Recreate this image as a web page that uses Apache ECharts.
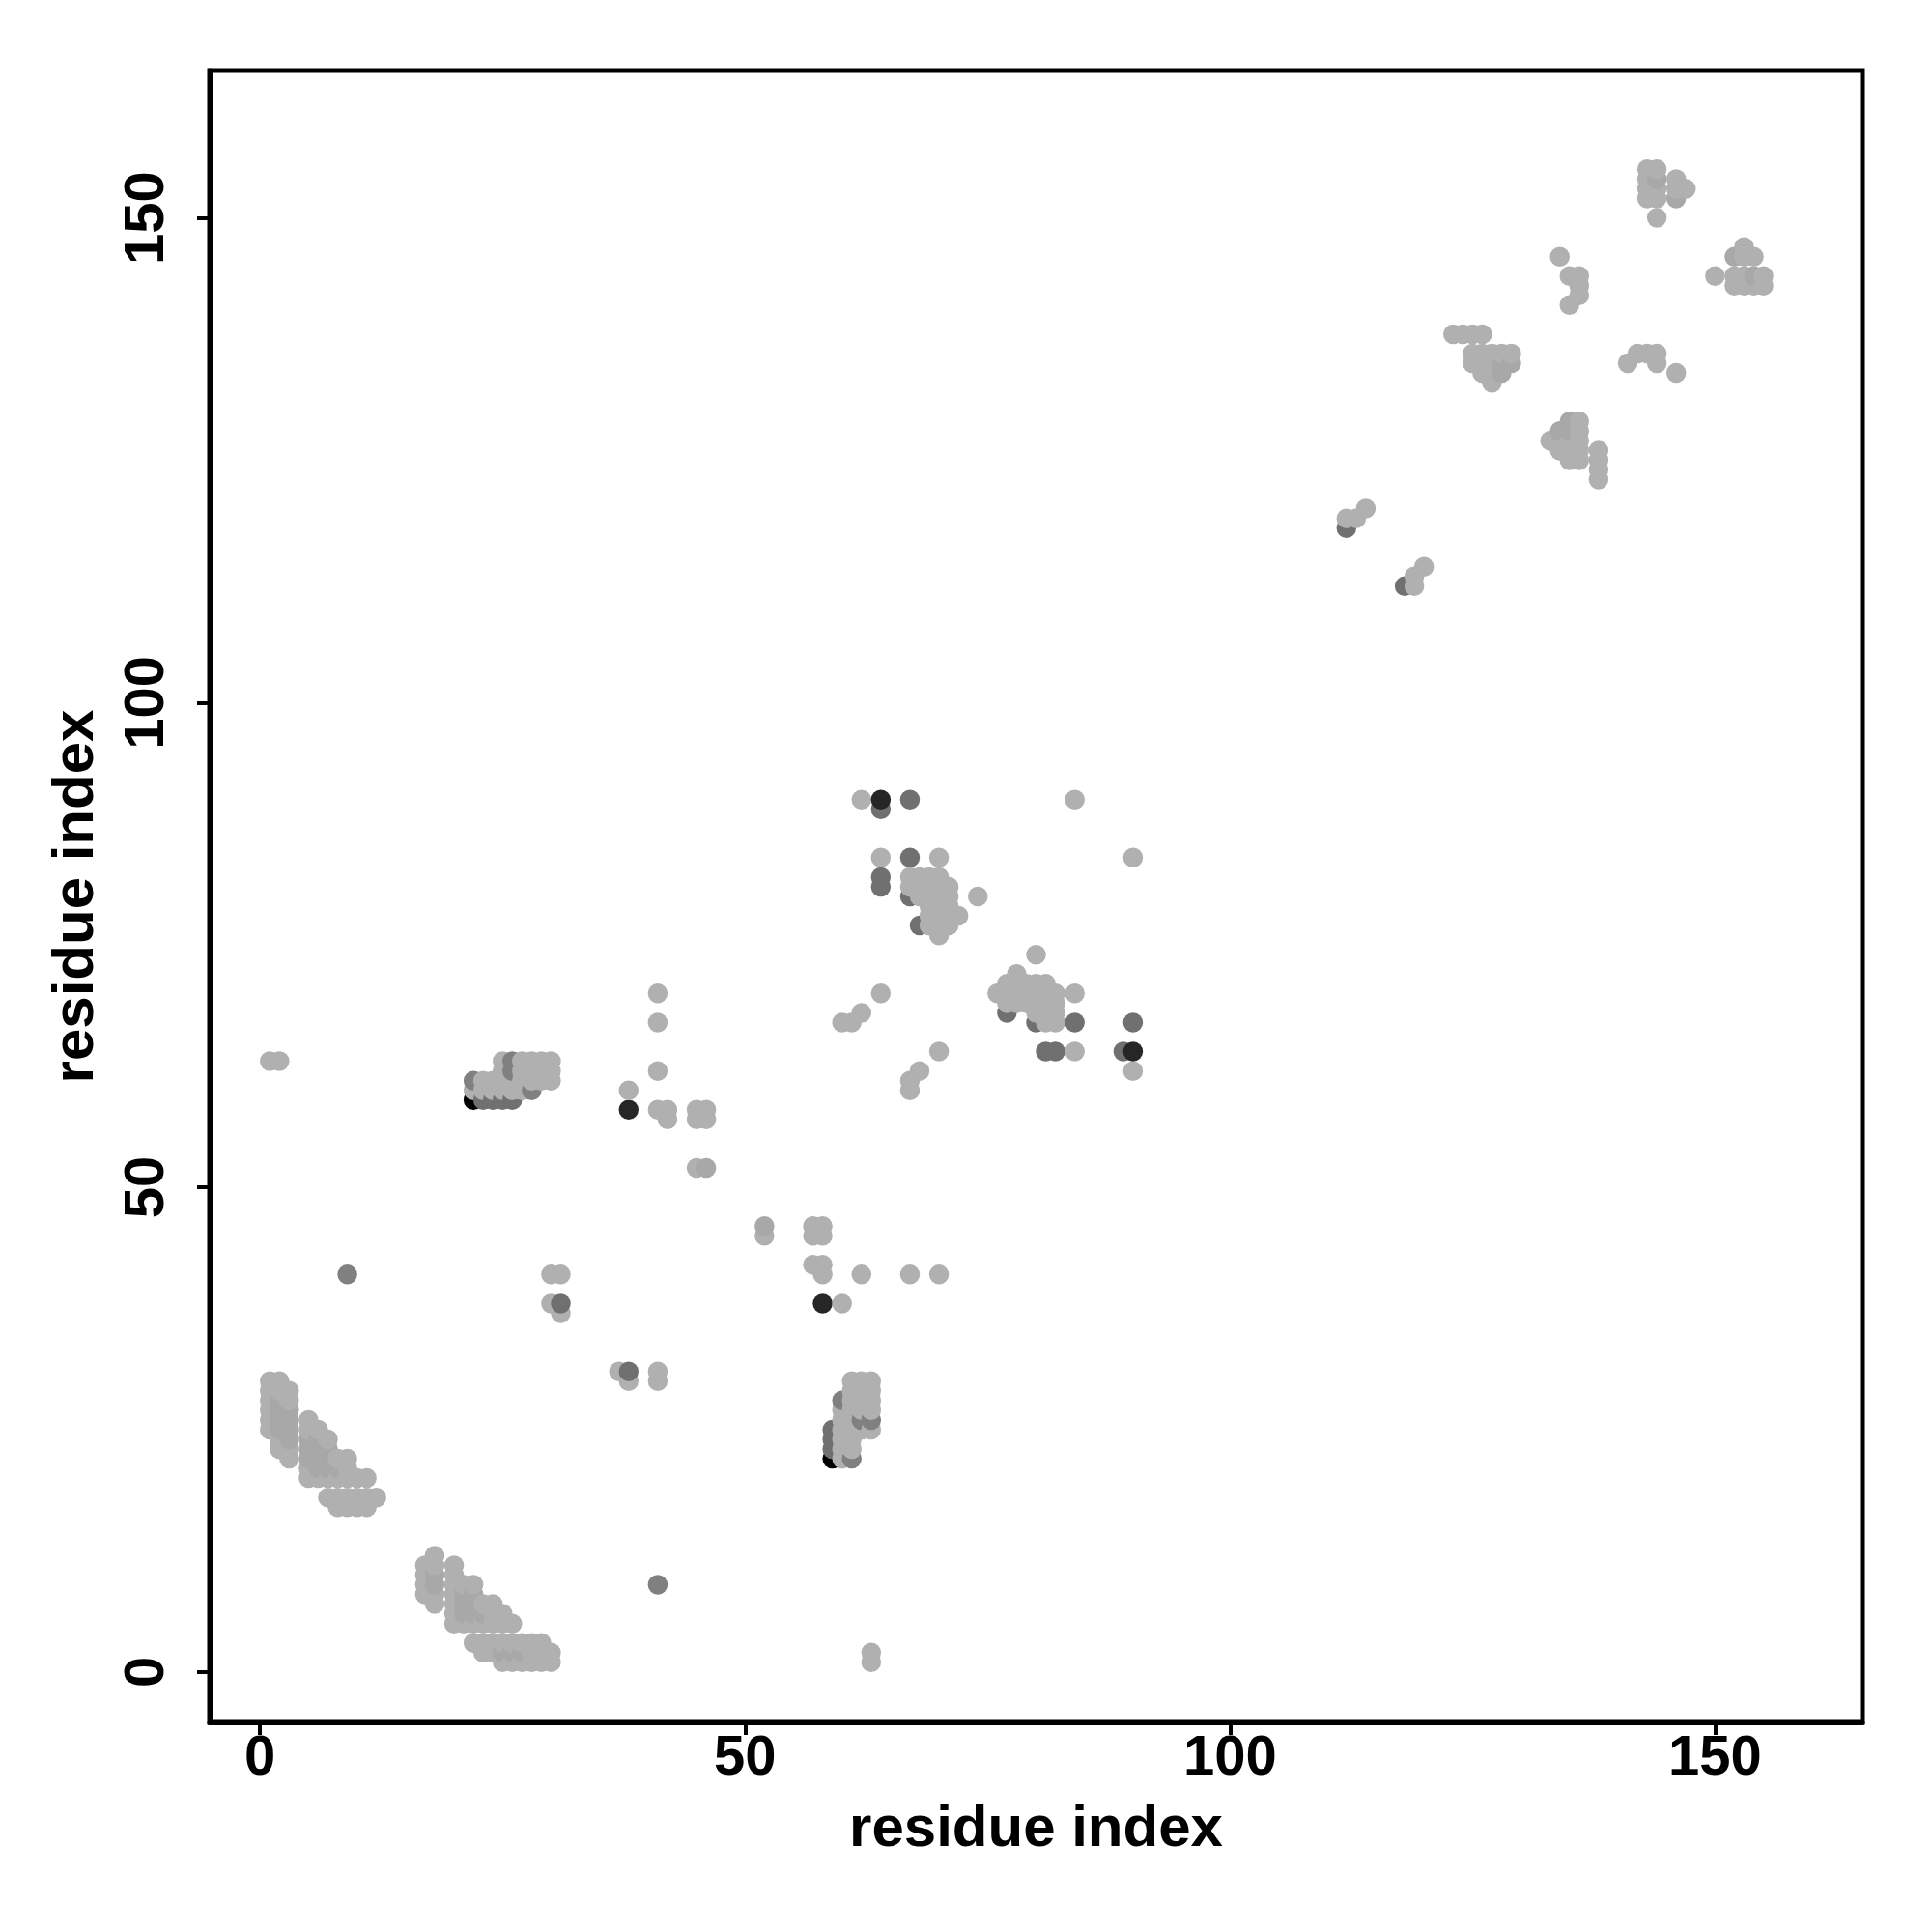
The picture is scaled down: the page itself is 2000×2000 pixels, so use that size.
<!DOCTYPE html>
<html><head><meta charset="utf-8">
<style>html,body{margin:0;padding:0;background:#fff}#c{width:2000px;height:2000px}</style>
<script src="https://cdn.jsdelivr.net/npm/echarts@6/dist/echarts.min.js"></script>
</head><body><div id="c"></div>
<script>
// each entry: [residue x, [residue y values]]
const lightColumns = [
[1,[25,26,27,28,29,30,63]],[2,[23,24,29,30,63]],[3,[22,23,28,29]],
[5,[20,21,25,26]],[6,[20,25]],[7,[18,20,24]],[8,[17,18,20,22]],[9,[17,18,20,21,22]],
[10,[17,18,20]],[11,[17,18,20]],[12,[18]],[17,[8,9,10,11]],[18,[7,8,11,12]],[20,[5,6,7,8,9,10,11]],
[21,[5,9]],[22,[3,5,9,60]],[23,[2,3,5,7,60,61]],[24,[2,3,5,6,7,60,61]],[25,[1,3,5,6,60,61,62,63]],
[26,[1,3,5,60,61]],[27,[1,3,60,61,62,63]],[28,[1,2,3,61,62,63]],[29,[1,2,3,61,62,63]],[30,[1,2,38,41,61,62,63]],
[31,[37,41]],[37,[31]],[38,[30,60]],[41,[30,31,58,62,67,70]],[42,[57,58]],[45,[52,57,58]],[46,[57,58]],[52,[45]],
[57,[42,45,46]],[58,[41,42,45,46]],[60,[22,23,24,25,26,27,38,67]],[61,[23,24,25,26,27,28,29,30,67]],
[62,[25,27,28,29,30,41,68,90]],[63,[1,2,25,27,28,29,30]],[64,[70,84]],[67,[41,60,61,81,82]],[68,[62,80,81,82]],
[69,[77,78,79,80,81,82]],[70,[41,64,76,77,78,79,80,81,82,84]],[71,[77,78,79,80,81]],[72,[78]],[74,[80]],[76,[70]],
[77,[69,70,71]],[78,[69,70,71,72]],[79,[69,70,71]],[80,[68,69,70,71,74]],[81,[67,68,69,70,71]],[82,[67,68,69,70]],
[84,[64,70,90]],[90,[62,84]],[112,[119]],[113,[119]],[114,[120]],[119,[112,113]],[120,[114]],
[123,[138]],[124,[138]],[125,[135,136,138]],[126,[134,135,136,138]],[127,[133,134,135,136]],[128,[136]],[129,[136]],
[133,[127]],[134,[126,127,146]],[135,[125,126,127,141,144]],[136,[125,126,127,128,129,142,143,144]],
[138,[123,124,125,126]],[141,[135]],[142,[136]],[143,[136,152,153,154,155]],[144,[135,136,150,152,153,155]],
[146,[134,153,154]],[147,[153]],[150,[144]],[152,[143,144]],[153,[143,144,146,147]],[154,[143,146]],[155,[143,144]]
];
const midColumns = [
[2,[25,26,27,28]],[3,[24,25,26,27]],[5,[22,23,24]],[6,[21,22,23,24]],[7,[21,22,23]],[8,[21]],
[18,[9,10]],[21,[6,7,8]],[22,[6,7,8]],[23,[6]],[25,[2]],[26,[2]],[27,[2]],
[46,[52]],[52,[46]],[128,[134,135]],[129,[135]],[134,[128]],[135,[128,129]],[144,[154]],[146,[152]],[152,[146]],[154,[144]]
];
const mediumColumns = [
[9,[41]],[22,[61]],[26,[62,63]],[28,[60]],[41,[9]],[60,[28]],[61,[22]],[62,[26]],[63,[26]]
];
const darkColumns = [
[23,[59]],[24,[59]],[25,[59]],[26,[59]],[31,[38]],[38,[31]],[59,[23,24,25]],[64,[81,82,89]],[67,[80,84,90]],[68,[77]],
[77,[68]],[80,[67]],[81,[64]],[82,[64]],[84,[67]],[89,[64]],[90,[67]],[112,[118]],[118,[112]]
];
const nearBlackColumns = [[38,[58]],[58,[38]],[64,[90]],[90,[64]]];
const blackColumns = [[22,[59]],[59,[22]]];
const xTicks = [0,50,100,150];
const yTicks = [0,50,100,150];
const axisName = 'residue index';

const levels = [
  [lightColumns,'#b0b0b0'],
  [midColumns,'#a8a8a8'],
  [mediumColumns,'#808080'],
  [darkColumns,'#707070'],
  [nearBlackColumns,'#262626'],
  [blackColumns,'#000000']
];
const points = [];
levels.forEach(([cols,color])=>cols.forEach(([x,ys])=>ys.forEach(y=>points.push({value:[x,y],itemStyle:{color,opacity:1}}))));
// the picture layers its marks by x, then y
points.sort((a,b)=>a.value[0]-b.value[0]||a.value[1]-b.value[1]);

const font='"Liberation Sans", Arial, sans-serif';
const axisCommon = {
  type:'value', nameLocation:'middle', splitLine:{show:false},
  axisLine:{show:true,onZero:false,lineStyle:{color:'#000',width:5}},
  nameTextStyle:{fontFamily:font,fontWeight:'bold',fontSize:60,color:'#000'}
};
const chart = echarts.init(document.getElementById('c'),null,{renderer:'canvas'});
chart.setOption({
  animation:false, backgroundColor:'#fff',
  grid:{left:217,right:72,top:73,bottom:217,show:true,borderColor:'#000',borderWidth:5,backgroundColor:'transparent'},
  xAxis:Object.assign({},axisCommon,{min:-5.2,max:165.2,name:axisName,nameGap:81,
    axisTick:{show:true,length:13,lineStyle:{color:'#000',width:4},customValues:xTicks},
    axisLabel:{fontFamily:font,fontWeight:'bold',fontSize:58,color:'#000',margin:9,customValues:xTicks,formatter:v=>String(v)}}),
  yAxis:Object.assign({},axisCommon,{min:-5.2,max:165.2,name:axisName,nameGap:108,
    axisTick:{show:true,length:13,lineStyle:{color:'#000',width:4},customValues:yTicks},
    axisLabel:{fontFamily:font,fontWeight:'bold',fontSize:58,color:'#000',margin:64,rotate:90,customValues:yTicks,formatter:v=>String(v),verticalAlign:'middle',align:'center'}}),
  series:[{type:'scatter',symbol:'circle',symbolSize:20.5,data:points,itemStyle:{opacity:1},large:false,progressive:0,clip:false,silent:true}]
});
</script></body></html>
